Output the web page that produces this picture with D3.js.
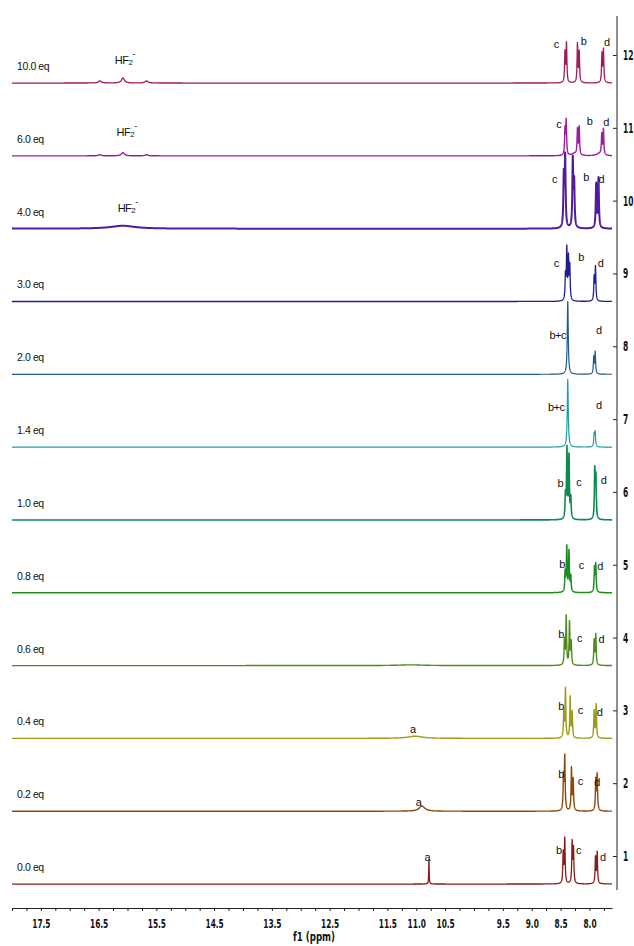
<!DOCTYPE html>
<html>
<head>
<meta charset="utf-8">
<script src="https://cdn.jsdelivr.net/npm/d3@7/dist/d3.min.js"></script>
<style>
  body { margin: 0; background: #fff; }
  svg { display: block; }
</style>
</head>
<body>
<div id="chart"></div>
<script>
var ppmRange = [18.0, 7.61];
var xTickLabels = ["17.5", "16.5", "15.5", "14.5", "13.5", "12.5", "11.5", "11.0", "10.5", "9.5", "9.0", "8.5", "8.0"];
var yTickLabels = [1, 2, 3, 4, 5, 6, 7, 8, 9, 10, 11, 12];
var eqLabels = ["0.0 eq", "0.2 eq", "0.4 eq", "0.6 eq", "0.8 eq", "1.0 eq", "1.4 eq", "2.0 eq", "3.0 eq", "4.0 eq", "6.0 eq", "10.0 eq"];

// peaks: [ppm, height (y units), half width (ppm, optional)]
var peaks00 = [[10.78, 0.33, 0.005], [8.455, 0.42], [8.428, 0.61], [8.300, 0.56], [8.277, 0.47], [7.896, 0.36], [7.867, 0.43]];
var peaks02 = [[10.90, 0.07, 0.06], [8.450, 0.46], [8.428, 0.73], [8.312, 0.58], [8.282, 0.42], [7.891, 0.42], [7.867, 0.49]];
var peaks04 = [[11.02, 0.03, 0.15], [8.445, 0.35], [8.416, 0.67], [8.334, 0.56], [8.300, 0.35], [7.919, 0.38], [7.884, 0.46]];
var peaks06 = [[11.10, 0.01, 0.25], [8.433, 0.34], [8.403, 0.67], [8.346, 0.58], [8.317, 0.31], [7.919, 0.34], [7.891, 0.42]];
var peaks08 = [[8.421, 0.27], [8.393, 0.62], [8.355, 0.56], [8.324, 0.21], [7.913, 0.33], [7.891, 0.38]];
var peaks10 = [[8.416, 0.32], [8.390, 0.95], [8.355, 0.86], [8.324, 0.28], [7.908, 0.66], [7.889, 0.56]];
var peaks14 = [[8.376, 0.93, 0.010], [7.919, 0.17], [7.901, 0.20]];
var peaks20 = [[8.376, 1.00, 0.010], [7.926, 0.23], [7.901, 0.30]];
var peaks30 = [[8.416, 0.33], [8.393, 0.70], [8.364, 0.56], [8.341, 0.46], [7.919, 0.32], [7.896, 0.46]];
var peaks40 = [[16.08, 0.04, 0.25], [8.445, 0.70, 0.009], [8.421, 0.96, 0.009], [8.289, 0.93, 0.009], [8.265, 0.60, 0.009], [7.884, 0.60, 0.009], [7.844, 0.68, 0.009]];
var peaks60 = [[16.48, 0.015, 0.03], [16.08, 0.045, 0.03], [15.67, 0.015, 0.03], [8.424, 0.35], [8.403, 0.47], [8.26, 0.03, 0.05], [8.208, 0.35], [8.178, 0.38], [7.83, 0.03, 0.05], [7.787, 0.28], [7.758, 0.35]];
var peaks100 = [[16.48, 0.03, 0.03], [16.08, 0.07, 0.03], [15.67, 0.03, 0.03], [8.424, 0.41], [8.398, 0.53], [8.208, 0.53], [8.178, 0.42], [7.784, 0.39], [7.758, 0.45]];
var peakLists = [peaks00, peaks02, peaks04, peaks06, peaks08, peaks10, peaks14, peaks20, peaks30, peaks40, peaks60, peaks100];

// signal labels: [trace index, text, ppm, height above baseline (y units)]
var signalLabels = [
  [0, "a", 10.81, 0.31], [0, "b", 8.532, 0.41], [0, "c", 8.190, 0.41], [0, "d", 7.770, 0.31],
  [1, "a", 10.96, 0.07], [1, "b", 8.490, 0.45], [1, "c", 8.161, 0.36], [1, "d", 7.867, 0.34],
  [2, "a", 11.06, 0.08], [2, "b", 8.490, 0.39], [2, "c", 8.161, 0.34], [2, "d", 7.827, 0.31],
  [3, "b", 8.490, 0.38], [3, "c", 8.173, 0.32], [3, "d", 7.797, 0.31],
  [4, "b", 8.473, 0.34], [4, "c", 8.144, 0.32], [4, "d", 7.815, 0.31],
  [5, "b", 8.507, 0.45], [5, "c", 8.185, 0.47], [5, "d", 7.758, 0.50],
  [6, "b+c", 8.577, 0.50], [6, "d", 7.839, 0.53],
  [7, "b+c", 8.549, 0.49], [7, "d", 7.839, 0.56],
  [8, "c", 8.577, 0.48], [8, "b", 8.144, 0.55], [8, "d", 7.810, 0.48],
  [9, "c", 8.606, 0.63], [9, "b", 8.057, 0.66], [9, "d", 7.797, 0.63],
  [10, "c", 8.532, 0.38], [10, "b", 8.000, 0.42], [10, "d", 7.711, 0.41],
  [11, "c", 8.577, 0.48], [11, "b", 8.104, 0.52], [11, "d", 7.700, 0.51]
];
// HF2- labels: [trace index, ppm of text start, height above baseline]
var hf2Labels = [[9, 16.17, 0.23], [10, 16.19, 0.27], [11, 16.22, 0.26]];

// ---- styles ----
var traceColors = ["#8b1a1a", "#8c4a10", "#9c9c1a", "#4f8a1a", "#1e8c1e", "#0d8a4e",
                   "#1f9e9e", "#1f5a8e", "#1e1e8e", "#501c9c", "#9a1e9a", "#9e1a5a"];
var traceWidths = [1.3, 1.4, 1.4, 1.4, 1.5, 1.6, 1.2, 1.2, 1.3, 2.0, 1.4, 1.3];
var axisFont = "'DejaVu Sans Condensed', 'DejaVu Sans', sans-serif";
var textFont = "'Liberation Sans', Arial, sans-serif";

var width = 634, height = 946;

var svg = d3.select("#chart").append("svg")
    .attr("width", width)
    .attr("height", height);

var x = d3.scaleLinear().domain(ppmRange).range([12, 612]);
var y = d3.scaleLinear().domain([1, 12]).range([856, 55]);
var baseOffset = 0.385;

// sampling grid along the ppm axis
var step = 0.002;
var grid = d3.range(ppmRange[1], ppmRange[0] + step / 2, step);

function spectrum(peaks) {
    return grid.map(function(p) {
        var s = 0;
        peaks.forEach(function(pk) {
            var hw = pk[2] || 0.008;
            var u = (p - pk[0]) / hw;
            s += pk[1] / (1 + u * u);
        });
        return [p, s];
    });
}

var traces = svg.append("g").attr("class", "traces");

peakLists.forEach(function(peaks, i) {
    var base = i + 1 - baseOffset;
    var line = d3.line()
        .x(function(d) { return x(d[0]); })
        .y(function(d) { return y(base + d[1]); });

    traces.append("path")
        .datum(spectrum(peaks))
        .attr("fill", "none")
        .attr("stroke", traceColors[i])
        .attr("stroke-width", traceWidths[i])
        .attr("stroke-linejoin", "round")
        .attr("d", line);

    traces.append("text")
        .attr("x", 17)
        .attr("y", y(base) - 13)
        .attr("font-family", textFont)
        .attr("font-size", "10.5px")
        .attr("letter-spacing", "-0.4px")
        .attr("fill", "#111")
        .text(eqLabels[i]);
});

/* signal labels */
var labels = svg.append("g").attr("class", "labels");

labels.selectAll("text.sig")
    .data(signalLabels)
    .enter().append("text")
    .attr("class", "sig")
    .attr("x", function(d) { return x(d[2]); })
    .attr("y", function(d) { return y(d[0] + 1 - baseOffset + d[3]); })
    .attr("text-anchor", "middle")
    .attr("font-family", textFont)
    .attr("font-size", "11px")
    .attr("letter-spacing", "-0.5px")
    .attr("fill", "#111")
    .text(function(d) { return d[1]; });

var hf = labels.selectAll("text.hf")
    .data(hf2Labels)
    .enter().append("text")
    .attr("class", "hf")
    .attr("x", function(d) { return x(d[1]); })
    .attr("y", function(d) { return y(d[0] + 1 - baseOffset + d[2]); })
    .attr("font-family", textFont)
    .attr("font-size", "11px")
    .attr("letter-spacing", "-0.5px")
    .attr("fill", "#111");
hf.append("tspan").text("HF");
hf.append("tspan").attr("font-size", "8px").attr("dy", 1).text("2");
hf.append("tspan").attr("font-size", "9px").attr("dy", -8).text("-");

/* x axis */
var tickVals = d3.range(0, 42).map(function(i) { return 18 - i * 0.25; });
var xAxis = d3.axisBottom(x)
    .tickValues(tickVals)
    .tickSizeInner(3)
    .tickSizeOuter(0)
    .tickPadding(8)
    .tickFormat(function(d) {
        var s = d.toFixed(1);
        return xTickLabels.indexOf(s) >= 0 ? s : "";
    });

var gx = svg.append("g")
    .attr("transform", "translate(0,908)")
    .call(xAxis);
gx.select(".domain").attr("stroke", "#222");
gx.selectAll(".tick line").attr("stroke", "#222");
gx.selectAll("text")
    .attr("font-family", axisFont)
    .attr("font-weight", "bold")
    .attr("font-size", "12.5px")
    .attr("fill", "#111")
    .attr("transform", "scale(0.66,1)");

svg.append("text")
    .attr("transform", "translate(314,941) scale(0.74,1)")
    .attr("text-anchor", "middle")
    .attr("font-family", axisFont)
    .attr("font-weight", "bold")
    .attr("font-size", "13px")
    .attr("fill", "#111")
    .text("f1 (ppm)");

/* right axis */
var yAxis = d3.axisRight(y)
    .tickValues(yTickLabels)
    .tickSizeInner(-4)
    .tickSizeOuter(0)
    .tickPadding(0)
    .tickFormat(d3.format("d"));

var gy = svg.append("g")
    .attr("transform", "translate(617,0)")
    .call(yAxis);
gy.select(".domain").remove();
gy.selectAll(".tick line").attr("stroke", "#222");
gy.selectAll("text")
    .attr("x", 0)
    .attr("font-family", axisFont)
    .attr("font-weight", "bold")
    .attr("font-size", "14px")
    .attr("fill", "#111")
    .attr("transform", "translate(6,0) scale(0.6,1)");

gy.append("line")
    .attr("x1", 0).attr("x2", 0)
    .attr("y1", 16).attr("y2", 890)
    .attr("stroke", "#444")
    .attr("stroke-width", 1.2);
</script>
</body>
</html>
